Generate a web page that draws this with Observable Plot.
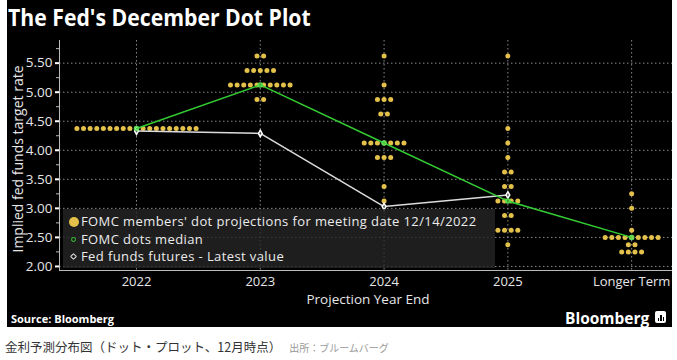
<!DOCTYPE html>
<html><head><meta charset="utf-8">
<script src="https://cdn.jsdelivr.net/npm/d3@7"></script>
<script src="https://cdn.jsdelivr.net/npm/@observablehq/plot@0.6"></script>
<style>
body{margin:0;background:#fff;width:677px;height:360px;position:relative;overflow:hidden;font-family:"Open Sans",sans-serif}
#panel{position:absolute;left:7px;top:0;width:665px;height:327px;background:#000}
#title{position:absolute;left:8px;top:0px;color:#fff;font-weight:bold;font-size:24px;white-space:nowrap;transform-origin:0 0;line-height:34px}
#chart{position:absolute;left:0;top:0}
#ytitle{position:absolute;left:18px;top:159px;color:#e6e6e6;font-size:14px;line-height:16px;white-space:nowrap;transform:translate(-50%,-50%) rotate(-90deg)}
#xtitle{position:absolute;left:368px;top:292px;color:#e6e6e6;font-size:13.5px;line-height:14px;white-space:nowrap;transform:translateX(-50%)}
#legend{position:absolute;left:63px;top:209px;width:432px;height:59px;background:rgba(38,38,38,0.78);color:#ececec;font-size:13px;letter-spacing:0.4px}
.row{position:absolute;left:0;white-space:nowrap;line-height:17px;height:17px}
.sym{position:absolute;box-sizing:border-box;border-radius:50%}
#source{position:absolute;left:11px;top:312px;color:#fff;font-weight:bold;font-size:11px;line-height:14px}
#logo{position:absolute;left:565px;top:308px;color:#fff;font-weight:bold;font-size:15.5px;line-height:20px;white-space:nowrap}
#icon{position:absolute;left:655px;top:311px;width:11px;height:12px;background:#fff;border-radius:2px}
#icon i{position:absolute;bottom:2px;width:1.5px;background:#000}
#caption{position:absolute;left:5px;top:337px;color:#333;font-family:"Noto Sans CJK JP";font-size:12.5px;white-space:nowrap}
#caption span{color:#999;font-size:10px;margin-left:8px}
</style></head>
<body>
<div id="panel"></div>
<div id="chart"></div>
<div id="title">The Fed's December Dot Plot</div>
<div id="ytitle">Implied fed funds target rate</div>
<div id="xtitle">Projection Year End</div>
<div id="legend">
  <div class="sym" style="left:6px;top:8px;width:10px;height:10px;background:#e3c14a"></div>
  <div class="row" style="left:18px;top:4px">FOMC members' dot projections for meeting date 12/14/2022</div>
  <div class="sym" style="left:8px;top:28px;width:5px;height:5px;border:1px solid #33cc33"></div>
  <div class="row" style="left:18px;top:21.5px">FOMC dots median</div>
  <div class="sym" style="left:8px;top:45px;width:5px;height:5px;border:1px solid #ddd;border-radius:1px;transform:rotate(45deg)"></div>
  <div class="row" style="left:18px;top:39px">Fed funds futures - Latest value</div>
</div>
<div id="source">Source: Bloomberg</div>
<div id="logo">Bloomberg</div>
<div id="icon"><i style="left:2.5px;height:3px"></i><i style="left:5px;height:6px"></i><i style="left:7.5px;height:4px"></i></div>
<div id="caption">金利予測分布図（ドット・プロット、12月時点）<span>出所：ブルームバーグ</span></div>
<script>
const categories = ["2022", "2023", "2024", "2025", "Longer Term"];
// [rate, number of FOMC participants]
const dots2022 = [[4.375, 19]];
const dots2023 = [[5.625, 2], [5.375, 5], [5.125, 10], [4.875, 2]];
const dots2024 = [[5.625, 1], [5.125, 1], [4.875, 3], [4.625, 2], [4.125, 7], [3.875, 3], [3.375, 1], [3.125, 1]];
const dots2025 = [[5.625, 1], [4.375, 1], [4.125, 1], [3.875, 1], [3.625, 2], [3.375, 2], [3.125, 4], [2.875, 2], [2.625, 4], [2.375, 1]];
const dotsLonger = [[3.25, 1], [3.0, 1], [2.625, 1], [2.5, 9], [2.375, 2], [2.25, 4]];
const medians = [4.375, 5.125, 4.125, 3.125, 2.5];
const futures = [4.33, 4.29, 3.03, 3.23];
const yTicks = [2.0, 2.5, 3.0, 3.5, 4.0, 4.5, 5.0, 5.5];
const yMinorTicks = [2.25, 2.75, 3.25, 3.75, 4.25, 4.75, 5.25, 5.75];

const dotRows = [dots2022, dots2023, dots2024, dots2025, dotsLonger];
const step = 0.0535;
const dotData = dotRows.flatMap((rows, i) => rows.flatMap(([rate, n]) =>
  d3.range(n).map(k => ({x: i + (k - (n - 1) / 2) * step, rate}))));
const medData = medians.map((v, i) => ({i, v}));
const futData = futures.map((v, i) => ({i, v}));
const xMin = -0.622, xMax = 4.33, yMin = 1.93, yMax = 5.89;

const chart = Plot.plot({
  width: 677, height: 310,
  marginLeft: 59, marginRight: 5, marginTop: 40, marginBottom: 40,
  style: {background: "transparent", color: "#e6e6e6", fontSize: "14px", fontFamily: "Open Sans"},
  x: {type: "linear", domain: [xMin, xMax], axis: null},
  y: {domain: [yMin, yMax], axis: null},
  marks: [
    Plot.ruleY(yTicks, {stroke: "#8a8a8a", strokeDasharray: "1.5,2.5"}),
    Plot.ruleX(d3.range(categories.length), {stroke: "#8a8a8a", strokeDasharray: "1.5,2.5"}),
    Plot.ruleX([xMin], {stroke: "#bbb"}),
    Plot.ruleY([yMin], {stroke: "#bbb"}),
    Plot.axisY(yTicks, {tickFormat: d3.format(".2f"), tickSize: 4, tickPadding: 3, stroke: "#fff", strokeWidth: 2, fill: "#e6e6e6", fontSize: 13.5, label: null}),
    Plot.axisY(yMinorTicks, {tickSize: 3, stroke: "#bbb", text: null, label: null}),
    Plot.axisX(d3.range(categories.length), {tickFormat: i => categories[i], tickSize: 0, tickPadding: 6, fill: "#e6e6e6", fontSize: 13, label: null}),
    Plot.dot(dotData, {x: "x", y: "rate", r: 2.5, fill: "#e3c14a"}),
    Plot.line(futData, {x: "i", y: "v", stroke: "#dcdcdc", strokeWidth: 1.5}),
    Plot.dot(futData, {x: "i", y: "v", r: 2, stroke: "#fff", fill: "#555", symbol: "diamond"}),
    Plot.line(medData, {x: "i", y: "v", stroke: "#33cc33", strokeWidth: 1.5}),
    Plot.dot(medData, {x: "i", y: "v", r: 2, stroke: "#55dd55", fill: "none"})
  ]
});
document.getElementById("chart").append(chart);
const t = document.getElementById("title");
t.style.transform = `scaleX(${303 / t.offsetWidth})`;
</script>
</body></html>
